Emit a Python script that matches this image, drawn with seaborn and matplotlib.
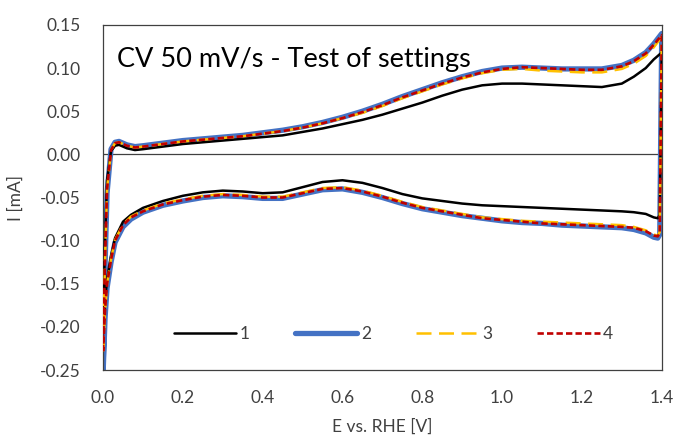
import numpy as np
import pandas as pd
import matplotlib
matplotlib.use("Agg")
import matplotlib.pyplot as plt
import seaborn as sns

# ---- data ----
E_anodic = [0.0, 0.005, 0.01, 0.02, 0.03, 0.04, 0.06, 0.08, 0.1, 0.15, 0.2, 0.25, 0.3, 0.35,
            0.4, 0.45, 0.5, 0.55, 0.6, 0.65, 0.7, 0.75, 0.8, 0.85, 0.9, 0.95, 1.0, 1.05, 1.1,
            1.15, 1.2, 1.25, 1.3, 1.33, 1.36, 1.38, 1.4]
E_cathodic = [1.4, 1.395, 1.39, 1.38, 1.36, 1.33, 1.3, 1.25, 1.2, 1.15, 1.1, 1.05, 1.0, 0.95,
              0.9, 0.85, 0.8, 0.75, 0.7, 0.65, 0.6, 0.55, 0.5, 0.45, 0.4, 0.35, 0.3, 0.25, 0.2,
              0.15, 0.1, 0.07, 0.05, 0.03, 0.02, 0.01, 0.005, 0.0]

I1_anodic = [-0.20, -0.10, -0.03, 0.004, 0.010, 0.011, 0.007, 0.005, 0.006, 0.009, 0.012, 0.014,
             0.016, 0.018, 0.020, 0.022, 0.026, 0.030, 0.035, 0.040, 0.046, 0.053, 0.060, 0.068,
             0.075, 0.080, 0.082, 0.082, 0.081, 0.080, 0.079, 0.078, 0.082, 0.090, 0.100, 0.110,
             0.118]
I1_cathodic = [0.118, -0.070, -0.074, -0.073, -0.069, -0.067, -0.066, -0.065, -0.064, -0.063,
               -0.062, -0.061, -0.060, -0.059, -0.057, -0.054, -0.051, -0.046, -0.039, -0.033,
               -0.030, -0.032, -0.038, -0.044, -0.045, -0.043, -0.042, -0.044, -0.048, -0.054,
               -0.062, -0.070, -0.078, -0.097, -0.118, -0.145, -0.170, -0.20]

I2_anodic = [-0.255, -0.13, -0.045, 0.006, 0.014, 0.015, 0.011, 0.009, 0.010, 0.013, 0.016, 0.018,
             0.020, 0.022, 0.025, 0.028, 0.032, 0.037, 0.043, 0.050, 0.058, 0.067, 0.075, 0.083,
             0.090, 0.096, 0.100, 0.101, 0.100, 0.099, 0.099, 0.099, 0.103, 0.109, 0.118, 0.128,
             0.140]
I2_cathodic = [0.140, -0.093, -0.097, -0.096, -0.091, -0.087, -0.085, -0.084, -0.083, -0.082,
               -0.080, -0.079, -0.077, -0.074, -0.071, -0.067, -0.063, -0.057, -0.050, -0.044,
               -0.040, -0.041, -0.046, -0.051, -0.051, -0.049, -0.048, -0.050, -0.054, -0.059,
               -0.067, -0.075, -0.084, -0.102, -0.125, -0.155, -0.19, -0.255]

I3_anodic = [-0.228, -0.12, -0.04, 0.005, 0.013, 0.014, 0.010, 0.008, 0.009, 0.012, 0.015, 0.017,
             0.019, 0.021, 0.024, 0.027, 0.031, 0.036, 0.042, 0.048, 0.056, 0.065, 0.073, 0.081,
             0.088, 0.094, 0.098, 0.099, 0.097, 0.096, 0.095, 0.095, 0.099, 0.105, 0.114, 0.124,
             0.136]
I3_cathodic = [0.136, -0.090, -0.094, -0.093, -0.088, -0.084, -0.082, -0.081, -0.080, -0.079,
               -0.078, -0.077, -0.075, -0.073, -0.069, -0.065, -0.061, -0.055, -0.048, -0.042,
               -0.038, -0.039, -0.044, -0.049, -0.049, -0.047, -0.046, -0.048, -0.052, -0.057,
               -0.065, -0.072, -0.081, -0.099, -0.121, -0.150, -0.18, -0.228]

I4_anodic = [-0.228, -0.12, -0.04, 0.005, 0.013, 0.014, 0.010, 0.008, 0.009, 0.012, 0.015, 0.017,
             0.019, 0.021, 0.024, 0.027, 0.031, 0.036, 0.042, 0.049, 0.057, 0.066, 0.074, 0.082,
             0.089, 0.095, 0.099, 0.101, 0.100, 0.099, 0.098, 0.098, 0.102, 0.108, 0.117, 0.127,
             0.138]
I4_cathodic = [0.138, -0.091, -0.095, -0.094, -0.089, -0.085, -0.084, -0.083, -0.082, -0.081,
               -0.080, -0.078, -0.076, -0.074, -0.070, -0.066, -0.062, -0.056, -0.049, -0.043,
               -0.039, -0.040, -0.045, -0.050, -0.050, -0.048, -0.047, -0.049, -0.053, -0.058,
               -0.066, -0.073, -0.082, -0.100, -0.122, -0.150, -0.18, -0.228]

series_names = ["1", "2", "3", "4"]
x_ticks = [0.0, 0.2, 0.4, 0.6, 0.8, 1.0, 1.2, 1.4]
y_ticks = [-0.25, -0.20, -0.15, -0.10, -0.05, 0.00, 0.05, 0.10, 0.15]
title_text = "CV 50 mV/s - Test of settings"

# ---- build long table ----
anodic = [I1_anodic, I2_anodic, I3_anodic, I4_anodic]
cathodic = [I1_cathodic, I2_cathodic, I3_cathodic, I4_cathodic]
rows = []
for name, ia, ic in zip(series_names, anodic, cathodic):
    E = list(E_anodic) + list(E_cathodic)
    I = list(ia) + list(ic)
    for k, (e, i) in enumerate(zip(E, I)):
        rows.append({"series": name, "E": e, "I": i, "k": k})
df = pd.DataFrame(rows)

sns.set_theme(style="white")
plt.rcParams["font.family"] = ["Lato", "DejaVu Sans"]

fig = plt.figure(figsize=(6.78, 4.37), dpi=100)
ax = fig.add_axes([0.152, 0.153, 0.824, 0.790])

styles = {
    "1": dict(color="black", lw=1.8, ls="-"),
    "2": dict(color="#4472C4", lw=3.8, ls="-"),
    "3": dict(color="#FFC000", lw=1.8, ls=(0, (6, 3))),
    "4": dict(color="#C00000", lw=1.9, ls=(0, (2.4, 1.2))),
}
zord = {"1": 3, "2": 2, "3": 4, "4": 5}
for name in series_names:
    sub = df[df["series"] == name].sort_values("k")
    st = styles[name]
    sns.lineplot(data=sub, x="E", y="I", sort=False, estimator=None, ax=ax,
                 color=st["color"], linewidth=st["lw"], linestyle=st["ls"],
                 label=name, zorder=zord[name])

ax.axhline(0, color="#404040", lw=0.9, zorder=1)
ax.set_xlim(0, 1.4)
ax.set_ylim(-0.25, 0.15)
ax.set_xticks(x_ticks)
ax.set_yticks(y_ticks)
ax.set_xticklabels([f"{v:.1f}" for v in x_ticks])
ax.set_yticklabels([f"{v:.2f}" for v in y_ticks])
ax.tick_params(axis="x", length=0, labelsize=12.5, colors="#404040", pad=14)
ax.tick_params(axis="y", length=0, labelsize=12.5, colors="#404040", pad=16)
for s in ax.spines.values():
    s.set_color("#404040")
    s.set_linewidth(0.9)
    s.set_visible(True)
ax.set_xlabel("E vs. RHE [V]", fontsize=12.5, color="#404040", labelpad=9)
ax.set_ylabel("I [mA]", fontsize=12.5, color="#404040", labelpad=12)

ax.text(0.025, 0.935, title_text, transform=ax.transAxes, fontsize=19.5,
        color="black", va="top", ha="left")

handles, labels = ax.get_legend_handles_labels()
ax.legend(handles, labels, loc="lower center", bbox_to_anchor=(0.52, 0.035), ncol=4,
          frameon=False, fontsize=12.5, handlelength=3.6, handletextpad=0.2,
          columnspacing=2.6, labelcolor="#404040")

fig.savefig("out.png", dpi=100)
